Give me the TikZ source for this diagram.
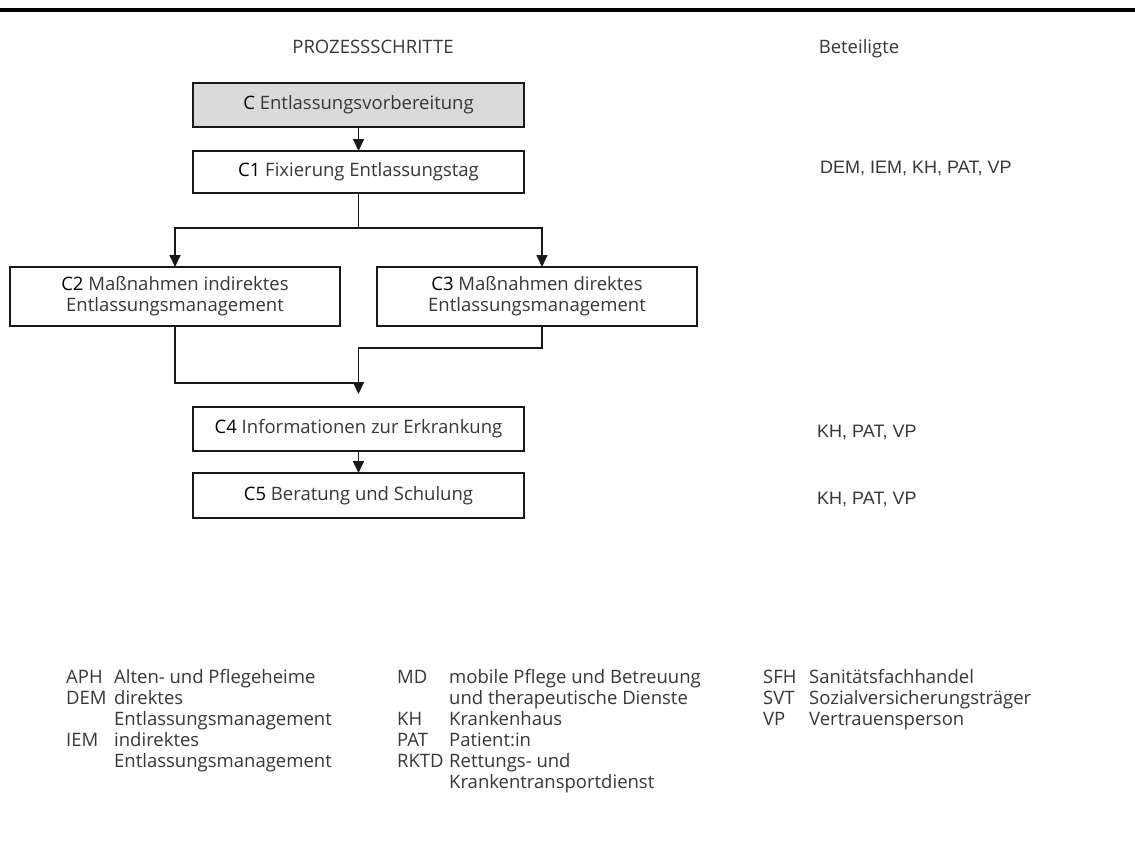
\documentclass[tikz,border=0pt]{standalone}
\usepackage{fontspec}
\setmainfont{Open Sans}
\newfontfamily\arialfont{Liberation Sans}
\usetikzlibrary{arrows.meta}
\definecolor{txt}{RGB}{55,55,55}
\definecolor{boxgray}{RGB}{218,218,218}
\definecolor{ln}{RGB}{25,25,25}
\begin{document}
\begin{tikzpicture}[x=1pt,y=-1pt,
  stepbox/.style={draw=ln, line width=1.7pt, inner sep=0pt, outer sep=0pt, text=txt,
    font=\fontsize{18.5}{21}\selectfont, align=center},
  conn/.style={draw=ln, line width=1.7pt},
  arr/.style={conn, -{Triangle[width=11pt,length=12pt]}},
  hdr/.style={text=txt, font=\fontsize{18.5}{21}\selectfont, inner sep=0pt, anchor=base},
  lbl/.style={text=txt, font=\fontsize{18.5}{21}\selectfont, inner sep=0pt, anchor=base west},
  part/.style={text=txt, font=\arialfont\fontsize{18}{20}\selectfont, inner sep=0pt, anchor=base west}]
\useasboundingbox (0,0) rectangle (1135,846);
\fill[white] (0,0) rectangle (1135,846);
\draw[line width=3.5pt] (0,10) -- (1135,10);

\node[hdr] (hproc) at (373,53.5) {PROZESSSCHRITTE};
\node[hdr] (hbet) at (859,53.5) {Beteiligte};

\node[stepbox, fill=boxgray, minimum width=331pt, minimum height=44pt] (c) at (358.5,105)
  {\textcolor{black}{C} Entlassungsvorbereitung};
\node[stepbox, minimum width=331pt, minimum height=42pt] (c1) at (358.5,172)
  {\textcolor{black}{C1} Fixierung Entlassungstag};
\node[stepbox, minimum width=330pt, minimum height=59pt] (c2) at (175,296.5)
  {\textcolor{black}{C2} Maßnahmen indirektes\\Entlassungsmanagement};
\node[stepbox, minimum width=320pt, minimum height=59pt] (c3) at (537,296.5)
  {\textcolor{black}{C3} Maßnahmen direktes\\Entlassungsmanagement};
\node[stepbox, minimum width=331pt, minimum height=44pt] (c4) at (358.5,429)
  {\textcolor{black}{C4} Informationen zur Erkrankung};
\node[stepbox, minimum width=331pt, minimum height=45pt] (c5) at (358.5,495.5)
  {\textcolor{black}{C5} Beratung und Schulung};

\coordinate (s) at (358.5,228);
\coordinate (m) at (358.5,394);
\draw[arr] (c.south) -- (c1.north);
\draw[conn] (c1.south) -- (s);
\draw[arr] (s) -| (c2.north);
\draw[arr] (s) -| ([xshift=5pt]c3.north);
\draw[conn] (c2.south) |- (358.5,383);
\draw[arr] ([xshift=5pt]c3.south) |- (358.5,348) -- (m);
\draw[arr] (c4.south) -- (c5.north);

\node[part] (p1) at (820,173.5) {DEM, IEM, KH, PAT, VP};
\node[part] (p4) at (817,437.5) {KH, PAT, VP};
\node[part] (p5) at (817,504.5) {KH, PAT, VP};

% legend column 1
\node[lbl] (a1) at (66,683.5) {APH};
\node[lbl] (d1) at (114,683.5) {Alten- und Pflegeheime};
\node[lbl] (a2) at (66,704.5) {DEM};
\node[lbl] (d2) at (114,704.5) {direktes};
\node[lbl] (d2b) at (114,725.5) {Entlassungsmanagement};
\node[lbl] (a3) at (66,746.5) {IEM};
\node[lbl] (d3) at (114,746.5) {indirektes};
\node[lbl] (d3b) at (114,767.5) {Entlassungsmanagement};
% legend column 2
\node[lbl] (a4) at (397,683.5) {MD};
\node[lbl] (d4) at (449,683.5) {mobile Pflege und Betreuung};
\node[lbl] (d4b) at (449,704.5) {und therapeutische Dienste};
\node[lbl] (a5) at (397,725.5) {KH};
\node[lbl] (d5) at (449,725.5) {Krankenhaus};
\node[lbl] (a6) at (397,746.5) {PAT};
\node[lbl] (d6) at (449,746.5) {Patient:in};
\node[lbl] (a7) at (397,767.5) {RKTD};
\node[lbl] (d7) at (449,767.5) {Rettungs- und};
\node[lbl] (d7b) at (449,788.5) {Krankentransportdienst};
% legend column 3
\node[lbl] (a8) at (763,683.5) {SFH};
\node[lbl] (d8) at (809,683.5) {Sanitätsfachhandel};
\node[lbl] (a9) at (763,704.5) {SVT};
\node[lbl] (d9) at (809,704.5) {Sozialversicherungsträger};
\node[lbl] (a10) at (763,725.5) {VP};
\node[lbl] (d10) at (809,725.5) {Vertrauensperson};
\end{tikzpicture}
\end{document}
